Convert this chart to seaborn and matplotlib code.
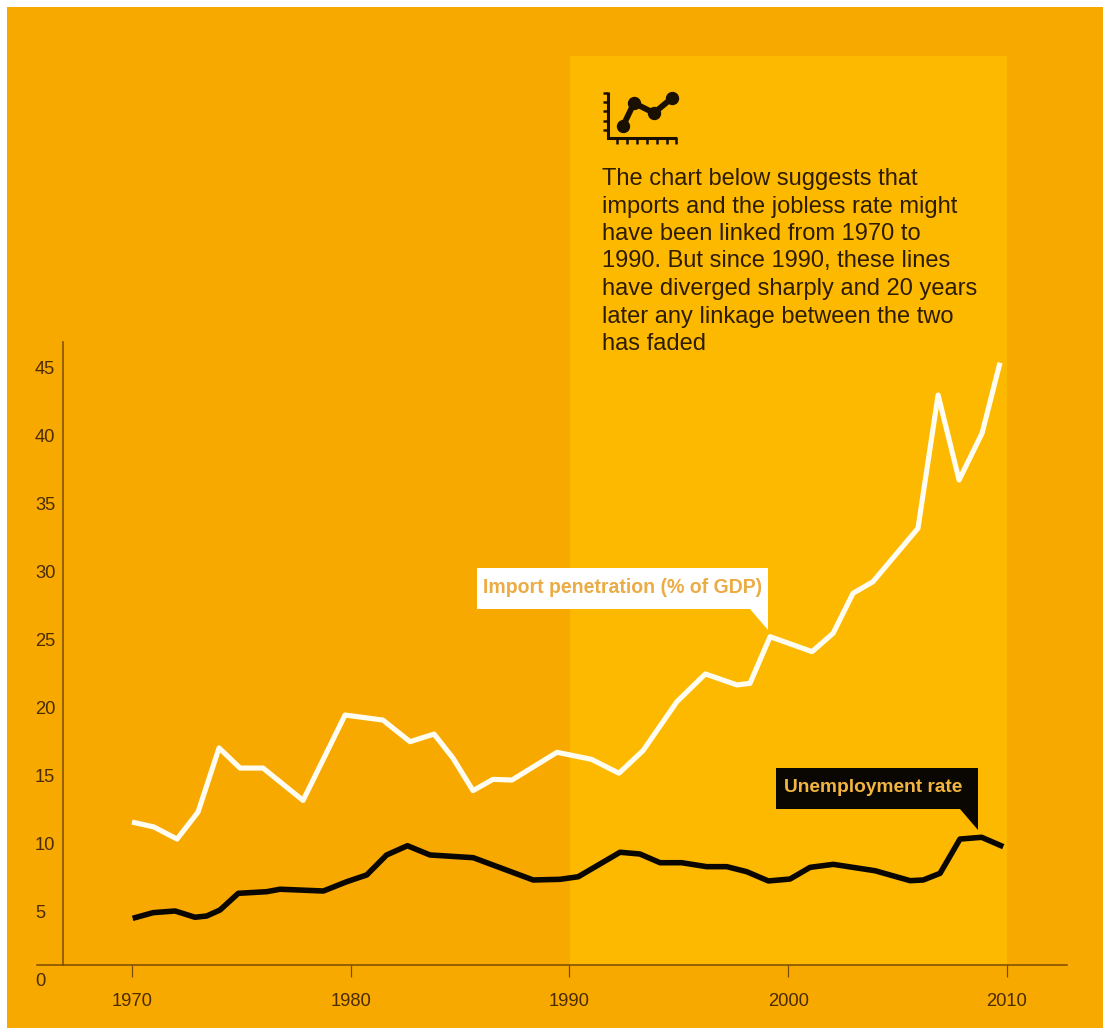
import matplotlib
matplotlib.use("Agg")
import matplotlib.pyplot as plt
import pandas as pd
import seaborn as sns
from matplotlib.patches import Polygon, Rectangle

# Import penetration (% of GDP)
import_years = [1970.0, 1971.0, 1972.06, 1973.02, 1973.98, 1974.94, 1975.99, 1977.82, 1979.74,
                1981.47, 1982.71, 1983.81, 1984.67, 1985.59, 1986.50, 1987.37, 1989.43, 1991.01,
                1992.26, 1993.36, 1994.91, 1996.21, 1997.66, 1998.25, 1999.17, 2001.09, 2002.05,
                2002.96, 2003.87, 2005.93, 2006.85, 2007.81, 2008.86, 2009.68]
import_values = [11.54, 11.18, 10.29, 12.28, 16.99, 15.51, 15.51, 13.13, 19.41,
                 19.04, 17.45, 18.01, 16.25, 13.85, 14.68, 14.63, 16.67, 16.15,
                 15.13, 16.79, 20.39, 22.43, 21.62, 21.74, 25.17, 24.07, 25.42,
                 28.36, 29.21, 33.14, 42.94, 36.69, 40.13, 45.32]

# Unemployment rate (%)
jobless_years = [1970.03, 1970.97, 1971.97, 1972.88, 1973.41, 1974.02, 1974.86, 1976.16, 1976.77,
                 1978.75, 1979.81, 1980.73, 1981.64, 1982.59, 1983.62, 1985.6, 1988.34, 1989.57,
                 1990.4, 1992.31, 1993.22, 1994.14, 1995.13, 1996.27, 1997.19, 1998.1, 1999.09,
                 2000.08, 2001.0, 2002.06, 2003.97, 2005.57, 2006.17, 2006.94, 2007.85, 2008.84,
                 2009.83]
jobless_values = [4.46, 4.88, 5.0, 4.54, 4.63, 5.07, 6.3, 6.42, 6.6,
                  6.47, 7.15, 7.65, 9.12, 9.8, 9.12, 8.92, 7.28, 7.33,
                  7.52, 9.32, 9.19, 8.55, 8.55, 8.26, 8.26, 7.89, 7.21,
                  7.35, 8.21, 8.43, 7.96, 7.23, 7.28, 7.77, 10.29, 10.42,
                  9.73]

x_ticks = [1970, 1980, 1990, 2000, 2010]
y_ticks = [0, 5, 10, 15, 20, 25, 30, 35, 40, 45]

note_lines = [
    "The chart below suggests that",
    "imports and the jobless rate might",
    "have been linked from 1970 to",
    "1990. But since 1990, these lines",
    "have diverged sharply and 20 years",
    "later any linkage between the two",
    "has faded",
]

ORANGE = "#F8A900"
AMBER = "#FDB900"
BROWN = "#7A4A00"
INK = "#4A2C00"
TEXT = "#2E1C00"

W, H = 1103, 1028
sns.set_theme(style="white")
plt.rcParams["font.family"] = ["Liberation Sans", "DejaVu Sans"]

fig = plt.figure(figsize=(W / 100, H / 100), dpi=100, facecolor="white")

# Page layer in pixel units: panel colours behind the plot
page = fig.add_axes([0, 0, 1, 1], zorder=0)
page.set_xlim(0, W)
page.set_ylim(H, 0)
page.axis("off")
page.add_patch(Rectangle((7, 7), W - 7, H - 7, fc=ORANGE, ec="none"))
page.add_patch(Rectangle((570, 56), 437, 909, fc=AMBER, ec="none"))

# Plot layer
ax = fig.add_axes([37 / W, 1 - 979 / H, (1067 - 37) / W, (979 - 342) / H], zorder=1)
ax.patch.set_alpha(0)
x_per_px = 1 / 21.875
y_per_px = 1 / 13.6
x_left = 1970 - (132 - 37) * x_per_px
x_right = 1970 + (1067 - 132) * x_per_px
y_top = (979 - 342) * y_per_px
y_floor = (979 - 965) * y_per_px
ax.set_xlim(x_left, x_right)
ax.set_ylim(0, y_top)

imports = pd.DataFrame({"year": import_years, "value": import_values})
jobless = pd.DataFrame({"year": jobless_years, "value": jobless_values})
sns.lineplot(data=imports, x="year", y="value", ax=ax, color="#FFFDF2", linewidth=3.7,
             sort=False, estimator=None, solid_joinstyle="round", solid_capstyle="butt")
sns.lineplot(data=jobless, x="year", y="value", ax=ax, color="#0A0703", linewidth=4.0,
             sort=False, estimator=None, solid_joinstyle="round", solid_capstyle="butt")

ax.set_xlabel("")
ax.set_ylabel("")
for side in ("top", "right"):
    ax.spines[side].set_visible(False)
ax.spines["left"].set_position(("data", 1970 - (132 - 63) * x_per_px))
ax.spines["left"].set_bounds(y_floor, y_top)
ax.spines["bottom"].set_position(("data", y_floor))
for side in ("left", "bottom"):
    ax.spines[side].set_color(BROWN)
    ax.spines[side].set_linewidth(1.1)

ax.set_xticks(x_ticks)
ax.set_yticks(y_ticks)
ax.tick_params(axis="x", length=8.5, width=0.9, color=BROWN, labelcolor=INK, labelsize=13.2, pad=11.5,
               bottom=True)
ax.tick_params(axis="y", length=0, labelcolor=INK, labelsize=13.2, pad=20.2, left=False)
for label in ax.get_yticklabels():
    label.set_horizontalalignment("left")

# Top layer: small chart icon, note and series callouts
top = fig.add_axes([0, 0, 1, 1], zorder=2)
top.set_xlim(0, W)
top.set_ylim(H, 0)
top.axis("off")

icon_x = [623, 634, 654, 672]
icon_y = [126, 103, 113, 98]
top.plot([608, 608, 677], [92, 138, 138], color="#1A1000", lw=2.2,
         solid_joinstyle="miter", solid_capstyle="butt")
for tick_y in (93, 102, 111, 121, 130):
    top.plot([603, 608], [tick_y, tick_y], color="#1A1000", lw=1.8, solid_capstyle="butt")
for tick_x in (617, 627, 637, 647, 657, 667, 676):
    top.plot([tick_x, tick_x], [138, 144], color="#1A1000", lw=1.8, solid_capstyle="butt")
top.plot(icon_x, icon_y, color="#1A1000", lw=4.2, marker="o", ms=8.6, solid_joinstyle="round")

for i, line in enumerate(note_lines):
    top.text(602, 179 + i * 27.5, line, color=TEXT, fontsize=17, ha="left", va="center")

top.add_patch(Polygon([(477, 568), (768, 568), (768, 630), (750, 609), (477, 609)],
                      closed=True, fc="white", ec="none"))
top.text(483, 587.5, "Import penetration (% of GDP)", color="#EBAB45", fontsize=14.05,
         fontweight="bold", ha="left", va="center")

top.add_patch(Polygon([(776, 768), (978, 768), (978, 830), (960, 809), (776, 809)],
                      closed=True, fc="#0A0703", ec="none"))
top.text(784, 787.5, "Unemployment rate", color="#F2B540", fontsize=13.8,
         fontweight="bold", ha="left", va="center")

fig.savefig("out.png", dpi=100, facecolor="white")
